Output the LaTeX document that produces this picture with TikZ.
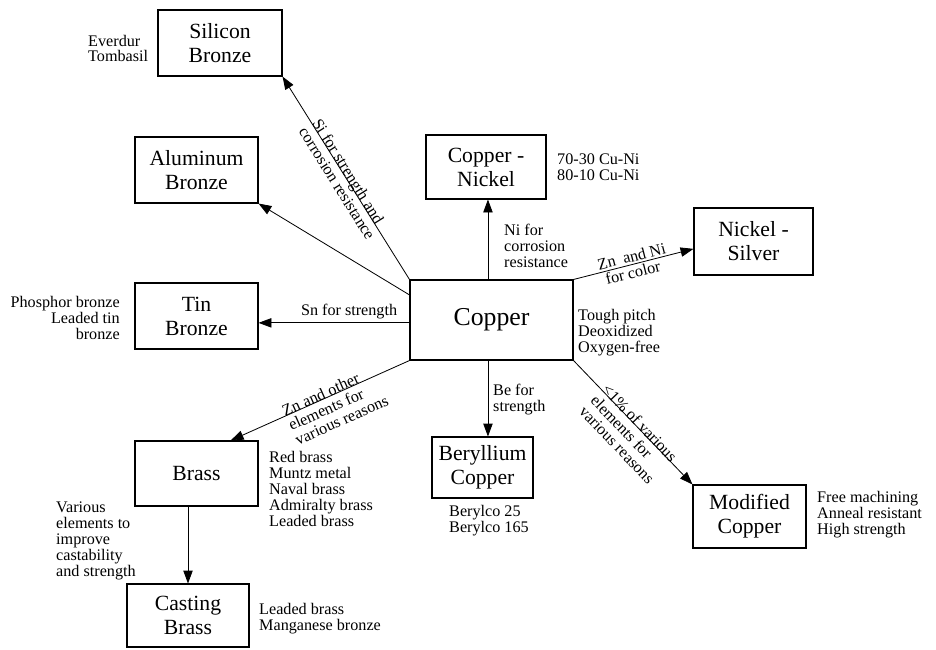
\documentclass[tikz,border=0pt]{standalone}
\usepackage{fontspec}
\setmainfont{Liberation Serif}
\usetikzlibrary{arrows.meta,positioning}

\begin{document}
\begin{tikzpicture}[x=0.03cm,y=-0.03cm,
    box/.style={draw,line width=0.9pt,align=center,inner sep=0pt,font=\fontsize{18.5}{20.5}\selectfont},
    note/.style={inner sep=0pt,font=\fontsize{13.8}{13.6}\selectfont},
    tag/.style={inner sep=1pt,align=left,font=\fontsize{13.8}{13.6}\selectfont},
    link/.style={-{Triangle[length=11pt,width=8pt]},line width=0.7pt}]
\useasboundingbox (0,0) rectangle (936,649);
\node[box,minimum width=163*0.03cm,minimum height=80*0.03cm,font=\fontsize{22}{24}\selectfont] (cu) at (491.5,320) {Copper};
\foreach \nm/\cx/\cy/\w/\h/\txt in {
    si/220/43/124/66/{Silicon\\Bronze},
    al/196.5/170/123/66/{Aluminum\\Bronze},
    cn/486/167/120/64/{Copper -\\Nickel},
    ns/753.5/241.5/119/67/{Nickel -\\Silver},
    tin/196.5/316/123/66/{Tin\\Bronze},
    br/196.5/473.5/123/65/{Brass},
    cb/188/615.5/122/63/{Casting\\Brass},
    be/482.5/467.5/101/61/{Beryllium\\Copper},
    mc/749.5/516.5/113/63/{Modified\\Copper}} {
    \node[box,minimum width=\w*0.03cm,minimum height=\h*0.03cm] (\nm) at (\cx,\cy) {\txt};
}
\draw[link] (cu.north west) -- node[tag,sloped,yshift=-2pt] {Si for strength and\\corrosion resistance} (si.south east);
\draw[link] (cu.163) -- (al.south east);
\draw[link] (cu.95) -- (cu.95 |- cn.south);
\draw[link] (cu.north east) -- node[tag,sloped] {Zn\ \ and Ni\\\ for color} (ns.187);
\draw[link] (cu.182) -- node[tag,above=2pt,pos=0.4] {Sn for strength} (cu.182 -| tin.east);
\draw[link] (cu.south west) -- node[tag,sloped,pos=0.44,yshift=-9pt] {Zn and other\\elements for\\various reasons} (br.44);
\draw[link] (cu.265) -- (cu.265 |- be.north);
\draw[link] (cu.south east) -- node[tag,sloped,pos=0.53,yshift=-9.5pt] {<1\% of various\\elements for\\various reasons} (mc.north west);
\draw[link] (br.south -| cb.north) -- (cb.north);
\node[note,align=left,anchor=west] (siN) at (88,48.5) {Everdur\\Tombasil};
\node[note,align=left,anchor=west] (cnN) at (557,167) {70-30 Cu-Ni\\80-10 Cu-Ni};
\node[note,align=left,anchor=west] (niN) at (504,246) {Ni for\\corrosion\\resistance};
\node[note,align=left,anchor=west] (cuN) at (578,333) {Tough pitch\\Deoxidized\\Oxygen-free};
\node[note,align=right,anchor=east] (tinN) at (120,318) {Phosphor bronze\\Leaded tin\\bronze};
\node[note,align=left,anchor=west] (beL) at (493,400) {Be for\\strength};
\node[note,align=left,anchor=west] (beN) at (449,521) {Berylco 25\\Berylco 165};
\node[note,align=left,anchor=west] (brN) at (269,489) {Red brass\\Muntz metal\\Naval brass\\Admiralty brass\\Leaded brass};
\node[note,align=left,anchor=west] (cbL) at (56,541) {Various\\elements to\\improve\\castability\\and strength};
\node[note,align=left,anchor=west] (cbN) at (259,619) {Leaded brass\\Manganese bronze};
\node[note,align=left,anchor=west] (mcN) at (817,515) {Free machining\\Anneal resistant\\High strength};
\end{tikzpicture}
\end{document}
